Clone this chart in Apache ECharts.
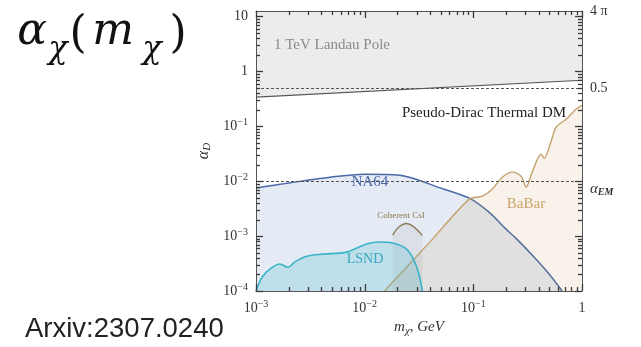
<!DOCTYPE html>
<html>
<head>
<meta charset="utf-8">
<script src="https://cdn.jsdelivr.net/npm/echarts@6/dist/echarts.min.js"></script>
<style>
  html, body { margin: 0; padding: 0; background: #fff; }
  #chart { width: 641px; height: 347px; }
</style>
</head>
<body>
<div id="chart"></div>
<script>
// Axis ranges (log-log): dark photon coupling vs dark matter mass
const xRange = [1e-3, 1];
const yRange = [1e-4, 4 * Math.PI];

// Decade ticks
const xMajorTicks = [1e-3, 1e-2, 1e-1, 1];
const yMajorTicks = [1e-4, 1e-3, 1e-2, 1e-1, 1, 10];
// Reference couplings drawn as dashed lines / right-hand labels
const alphaHalf = 0.5;
const alphaEM = 1 / 137.036;
const rightTicks = [alphaEM, alphaHalf, 4 * Math.PI * 0.9999];

// 1 TeV Landau pole boundary (region above is shaded)
const landauPole = [[1e-3, 0.34], [1, 0.69]];

// NA64 exclusion curve
const na64 = [
  [1e-3, 0.0075], [0.00166, 0.0088], [0.0048, 0.0118], [0.01, 0.0134],
  [0.021, 0.0128], [0.052, 0.0073], [0.0919, 0.0049], [0.14, 0.0027],
  [0.2, 0.00134], [0.25, 0.00089], [0.378, 0.00038], [0.498, 0.000204],
  [0.656, 1e-4]
];

// BaBar exclusion curve
const babar = [
  [0.01524, 1e-4], [0.0421, 0.00088], [0.0919, 0.00471], [0.121, 0.00533],
  [0.149, 0.00716], [0.1845, 0.0118], [0.228, 0.0146], [0.275, 0.0123],
  [0.306, 0.00778], [0.348, 0.0146], [0.42, 0.031], [0.448, 0.0262],
  [0.52, 0.0533], [0.577, 0.096], [0.713, 0.134], [0.881, 0.204], [1, 0.241]
];

// LSND exclusion curve
const lsnd = [
  [1e-3, 1e-4], [0.00114, 0.00018], [0.00134, 0.00025], [0.00166, 0.00031],
  [0.00197, 0.00027], [0.00228, 0.00034], [0.00294, 0.00043], [0.0041, 0.00047],
  [0.0068, 0.00051], [0.0104, 0.00072], [0.0137, 0.00078], [0.018, 0.00075],
  [0.0243, 0.00058], [0.03, 0.00028], [0.034, 1e-4]
];

// Coherent CsI excluded island cap
const cohCsI = [
  [0.0181, 0.00104], [0.0205, 0.00145], [0.0243, 0.0017], [0.028, 0.0015], [0.034, 0.00102]
];

function minorTicks(lo, hi) {
  const out = [];
  for (let e = Math.floor(Math.log10(lo)); e <= Math.ceil(Math.log10(hi)); e++) {
    for (let m = 2; m <= 9; m++) {
      const v = m * Math.pow(10, e);
      if (v > lo && v < hi) out.push(v);
    }
  }
  return out;
}
const xMinorTicks = minorTicks(xRange[0], xRange[1]);
const yMinorTicks = minorTicks(yRange[0], yRange[1]);

const SERIF = "'Liberation Serif', 'DejaVu Serif', serif";
const FRAME = '#555';
const TICK = '#3a3a3a';
const TXT = '#333';
const MAJOR_LEN = 7, MINOR_LEN = 4;

const powRich = {
  b: { fontFamily: SERIF, fontSize: 14, color: TXT, lineHeight: 18 },
  s: { fontFamily: SERIF, fontSize: 10, color: TXT, verticalAlign: 'top' }
};
function powLabel(v) {
  const e = Math.round(Math.log10(v));
  if (e === 0) return '{b|1}';
  if (e === 1) return '{b|10}';
  return '{b|10}{s|\u2212' + Math.abs(e) + '}';
}

function frameAxis(pos, range, labelCfg, extra) {
  return Object.assign({
    type: 'log', logBase: 10, min: range[0], max: range[1], position: pos,
    splitLine: { show: false }, silent: true, z: 20,
    axisLine: { show: true, onZero: false, lineStyle: { color: FRAME, width: 1 } },
    axisTick: { show: false },
    axisLabel: labelCfg || { show: false }
  }, extra || {});
}

const chart = echarts.init(document.getElementById('chart'), null, { renderer: 'canvas' });

const xAxes = [
  frameAxis('bottom', xRange, {
    show: true, customValues: xMajorTicks, formatter: powLabel, rich: powRich, margin: 8
  }, {
    name: '{i|m}{sub|\u03c7}{i|, GeV}', nameLocation: 'middle', nameGap: 27,
    nameTextStyle: {
      rich: {
        i: { fontFamily: SERIF, fontStyle: 'italic', fontSize: 15, color: TXT, lineHeight: 18 },
        sub: { fontFamily: SERIF, fontStyle: 'italic', fontSize: 11, color: TXT, verticalAlign: 'bottom' }
      }
    }
  }),
  frameAxis('top', xRange, null)
];

const yAxes = [
  frameAxis('left', yRange, {
    show: true, customValues: yMajorTicks, formatter: powLabel, rich: powRich, margin: 8
  }, {
    name: '{i|\u03b1}{sub|D}', nameLocation: 'middle', nameGap: 38, nameRotate: 90,
    nameTextStyle: {
      rich: {
        i: { fontFamily: SERIF, fontStyle: 'italic', fontSize: 16, color: TXT, lineHeight: 18 },
        sub: { fontFamily: SERIF, fontStyle: 'italic', fontSize: 11, color: TXT, verticalAlign: 'bottom' }
      }
    }
  }),
  frameAxis('right', yRange, {
    show: true, customValues: rightTicks, margin: 8, showMaxLabel: true,
    formatter: function (v) {
      if (v > 10) return '{b|4 \u03c0}';
      if (Math.abs(v - 0.5) < 1e-9) return '{b|0.5}';
      return '{a|\u03b1}{sub|EM}';
    },
    rich: {
      b: { fontFamily: SERIF, fontSize: 14, color: TXT, lineHeight: 18 },
      a: { fontFamily: SERIF, fontStyle: 'italic', fontSize: 15, color: TXT, lineHeight: 18 },
      sub: { fontFamily: SERIF, fontStyle: 'italic', fontWeight: 'bold', fontSize: 10, color: TXT, verticalAlign: 'bottom' }
    }
  })
];

// Inward tick marks on all four sides: [x, y, length, orientation(0 = x tick, 1 = y tick)]
const tickData = []
  .concat(xMajorTicks.map(v => [v, yRange[0], MAJOR_LEN, 0]))
  .concat(xMinorTicks.map(v => [v, yRange[0], MINOR_LEN, 0]))
  .concat(yMajorTicks.map(v => [xRange[0], v, MAJOR_LEN, 1]))
  .concat(yMinorTicks.map(v => [xRange[0], v, MINOR_LEN, 1]));

function renderTick(params, api) {
  const cs = params.coordSys;
  const len = api.value(2);
  const st = { stroke: TICK, lineWidth: 1.3, fill: null };
  if (api.value(3) === 0) {
    const px = Math.round(api.coord([api.value(0), yRange[0]])[0]) + 0.5;
    const yb = cs.y + cs.height, yt = cs.y;
    return { type: 'group', children: [
      { type: 'line', z2: 100, shape: { x1: px, y1: yb, x2: px, y2: yb - len }, style: st },
      { type: 'line', z2: 100, shape: { x1: px, y1: yt, x2: px, y2: yt + len }, style: st }
    ] };
  }
  const py = Math.round(api.coord([xRange[0], api.value(1)])[1]) + 0.5;
  const xl = cs.x, xr = cs.x + cs.width;
  return { type: 'group', children: [
    { type: 'line', z2: 100, shape: { x1: xl, y1: py, x2: xl + len, y2: py }, style: st },
    { type: 'line', z2: 100, shape: { x1: xr, y1: py, x2: xr - len, y2: py }, style: st }
  ] };
}

function curve(name, data, color, width, fill, origin, z, smooth) {
  return {
    name: name, type: 'line', data: data, xAxisIndex: 0, yAxisIndex: 0,
    showSymbol: false, symbol: 'none', smooth: smooth, z: z,
    lineStyle: { color: color, width: width },
    areaStyle: fill ? { color: fill, opacity: 1, origin: origin } : undefined,
    silent: true
  };
}

const series = [
  Object.assign(curve('Landau', landauPole, '#555', 1.1, '#ececec', 'end', 1, false), {
    markLine: {
      silent: true, symbol: 'none', animation: false,
      label: { show: false },
      lineStyle: { color: '#555', width: 1, type: [3, 2] },
      data: [{ yAxis: alphaHalf }, { yAxis: alphaEM }]
    }
  }),
  curve('NA64', na64, '#4b68a8', 1.5, 'rgba(70,110,180,0.14)', 'start', 2, 0.3),
  curve('BaBar', babar, '#c4a36c', 1.4, 'rgba(200,150,80,0.12)', 'start', 3, 0.3),
  curve('CsI', cohCsI, '#8c7c58', 1.4, 'rgba(110,110,110,0.09)', 'start', 4, 0.4),
  curve('LSND', lsnd, '#3ab4c6', 1.6, 'rgba(60,180,200,0.22)', 'start', 5, 0.35),
  {
    name: 'ticks', type: 'custom', coordinateSystem: 'cartesian2d',
    xAxisIndex: 0, yAxisIndex: 0,
    dimensions: ['x', 'y', 'len', 'dir'],
    encode: { x: 0, y: 1 },
    data: tickData, renderItem: renderTick, clip: false, silent: true, z: 25
  }
];

function label(text, x, y, size, color, opts) {
  return {
    type: 'text', x: x, y: y, silent: true, z: 30,
    style: Object.assign({
      text: text, fontFamily: SERIF, fontSize: size, fill: color,
      textAlign: 'center', textVerticalAlign: 'middle'
    }, opts || {})
  };
}

const MATH = "'DejaVu Serif', 'Liberation Serif', serif";
const graphics = [
  label('1 TeV Landau Pole', 332, 45, 15, '#8a8a8a'),
  label('Pseudo-Dirac Thermal DM', 484, 113, 15, '#222'),
  label('NA64', 370, 182, 15, '#4b68a8'),
  label('Coherent CsI', 401, 216, 9, '#8c7a52'),
  label('LSND', 365, 259, 14, '#38a8bd'),
  label('BaBar', 526, 204, 15, '#c9a46a'),
  // heading: alpha_chi(m_chi)
  label('\u03b1', 32, 33, 44, '#111', { fontFamily: MATH, fontStyle: 'italic' }),
  label('\u03c7', 58, 50, 32, '#111', { fontFamily: MATH, fontStyle: 'italic' }),
  label('(', 78, 36, 44, '#111', { fontFamily: MATH }),
  label('m', 113, 33, 44, '#111', { fontFamily: MATH, fontStyle: 'italic' }),
  label('\u03c7', 152, 50, 32, '#111', { fontFamily: MATH, fontStyle: 'italic' }),
  label(')', 178, 36, 44, '#111', { fontFamily: MATH }),
  {
    type: 'text', x: 25, y: 343, silent: true,
    style: {
      text: 'Arxiv:2307.0240', fontFamily: "'Liberation Sans', Arial, sans-serif",
      fontSize: 27.5, fill: '#222', textAlign: 'left', textVerticalAlign: 'bottom'
    }
  }
];

chart.setOption({
  animation: false,
  backgroundColor: '#fff',
  grid: { left: 256, right: 59, top: 11, bottom: 56, containLabel: false },
  xAxis: xAxes,
  yAxis: yAxes,
  series: series,
  graphic: graphics
});
</script>
</body>
</html>
